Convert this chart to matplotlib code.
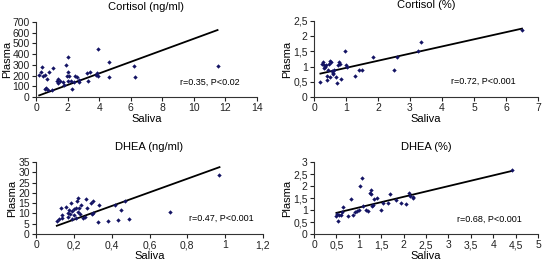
import matplotlib.pyplot as plt

plt.rcParams['font.family'] = ['Liberation Sans', 'DejaVu Sans']

# Cortisol (ng/ml)
cort_ng_saliva = [0.2, 0.3, 0.4, 0.45, 0.55, 0.6, 0.65, 0.75, 0.7, 0.85, 1.0, 1.05, 1.3, 1.4,
                  1.4, 1.5, 1.7, 1.8, 1.9, 1.95, 2.0, 2.0, 2.05, 2.1, 2.2, 2.3, 2.4, 2.5, 2.6,
                  2.7, 2.75, 3.2, 3.3, 3.4, 3.8, 3.85, 3.9, 3.95, 4.6, 4.65, 6.2, 6.3, 11.5]
cort_ng_plasma = [210, 235, 280, 200, 205, 75, 80, 65, 170, 230, 70, 270, 150, 170,
                  130, 150, 140, 115, 300, 200, 370, 230, 150, 200, 150, 75, 140, 200, 190,
                  160, 140, 220, 150, 230, 210, 220, 450, 195, 330, 190, 285, 190, 290]
cort_ng_fit_x = [0.2, 11.5]
cort_ng_fit_y = [15, 625]

# Cortisol (%)
cort_pct_saliva = [0.18, 0.25, 0.28, 0.3, 0.32, 0.35, 0.38, 0.4, 0.42, 0.45, 0.48, 0.5, 0.5,
                   0.52, 0.55, 0.58, 0.6, 0.62, 0.7, 0.72, 0.75, 0.78, 0.8, 0.85, 0.98, 1.0,
                   1.02, 1.27, 1.4, 1.5, 1.85, 2.5, 2.6, 3.25, 3.35, 6.5]
cort_pct_plasma = [0.5, 1.1, 1.15, 0.95, 1.05, 1.0, 1.05, 0.55, 0.7, 0.9, 1.1, 1.2, 0.65,
                   1.15, 0.85, 0.8, 0.75, 0.9, 0.65, 0.45, 1.05, 1.15, 1.1, 0.6, 1.5, 1.05,
                   1.0, 0.7, 0.9, 0.9, 1.3, 0.9, 1.3, 1.5, 1.8, 2.2]
cort_pct_fit_x = [0.2, 6.5]
cort_pct_fit_y = [0.77, 2.25]

# DHEA (ng/ml)
dhea_ng_saliva = [0.11, 0.12, 0.13, 0.135, 0.14, 0.16, 0.17, 0.17, 0.175, 0.18, 0.185, 0.19,
                  0.19, 0.2, 0.2, 0.21, 0.21, 0.215, 0.22, 0.22, 0.225, 0.23, 0.24, 0.25, 0.26,
                  0.265, 0.27, 0.29, 0.295, 0.3, 0.3, 0.33, 0.335, 0.38, 0.42, 0.435, 0.45,
                  0.47, 0.49, 0.71, 0.97]
dhea_ng_plasma = [6.5, 7.5, 12.5, 8, 9, 13, 10, 8.5, 11.5, 9.5, 15, 11,
                  7.5, 12, 9, 12.5, 8, 16, 17.5, 10.5, 12.5, 9.5, 14, 8, 8.5,
                  17, 12.5, 15, 9.5, 16, 10, 6, 14, 6.5, 14, 7, 11.5,
                  16, 7.5, 10.5, 28.5]
dhea_ng_fit_x = [0.11, 0.97]
dhea_ng_fit_y = [4, 32.5]

# DHEA (%)
dhea_pct_saliva = [0.5, 0.52, 0.53, 0.55, 0.6, 0.62, 0.65, 0.75, 0.82, 0.88, 0.92, 0.97, 1.0,
                   1.03, 1.08, 1.1, 1.15, 1.2, 1.25, 1.27, 1.28, 1.3, 1.32, 1.35, 1.4, 1.5,
                   1.55, 1.65, 1.7, 1.82, 1.95, 2.05, 2.12, 2.15, 2.2, 2.22, 4.42]
dhea_pct_plasma = [0.75, 0.85, 0.55, 0.78, 0.8, 0.9, 1.12, 0.75, 1.45, 0.78, 0.9, 0.95, 1.0,
                   2.02, 2.35, 1.15, 1.0, 0.95, 1.7, 1.65, 1.85, 1.15, 1.2, 1.45, 1.5, 1.0,
                   1.3, 1.3, 1.65, 1.4, 1.3, 1.25, 1.7, 1.6, 1.5, 1.55, 2.65]
dhea_pct_fit_x = [0.5, 4.4]
dhea_pct_fit_y = [0.88, 2.62]

W, H = 542, 261
fig = plt.figure(figsize=(W / 100, H / 100), dpi=100)


def panel(px, title, xs, ys, fx, fy, xlim, xstep, ylim, ystep, note, nx, ny):
    l, r, t, b = px
    ax = fig.add_axes([l / W, 1 - b / H, (r - l) / W, (b - t) / H])
    ax.scatter(xs, ys, s=5, marker='D', color='#141464', linewidths=0, zorder=3)
    ax.plot(fx, fy, color='black', lw=1.3)
    ax.set_xlim(*xlim)
    ax.set_ylim(*ylim)
    n = int(round((xlim[1] - xlim[0]) / xstep))
    xt = [xlim[0] + i * xstep for i in range(n + 1)]
    m = int(round((ylim[1] - ylim[0]) / ystep))
    yt = [ylim[0] + i * ystep for i in range(m + 1)]
    fmt = lambda v: ('%g' % round(v, 2)).replace('.', ',')
    ax.set_xticks(xt, [fmt(v) for v in xt])
    ax.set_yticks(yt, [fmt(v) for v in yt])
    for s in ['top', 'right']:
        ax.spines[s].set_visible(False)
    for s in ['left', 'bottom']:
        ax.spines[s].set_color('#333333')
        ax.spines[s].set_linewidth(0.8)
    ax.tick_params(labelsize=7.5, length=3, width=0.8, pad=1.5, colors='#222222')
    ax.set_title(title, fontsize=8, pad=9)
    ax.set_xlabel('Saliva', fontsize=8, labelpad=0.5)
    ax.set_ylabel('Plasma', fontsize=8, labelpad=0.5)
    ax.text(nx, ny, note, transform=ax.transAxes, fontsize=6.5, va='center')
    return ax


panel((36, 257, 22, 97), 'Cortisol (ng/ml)', cort_ng_saliva, cort_ng_plasma,
      cort_ng_fit_x, cort_ng_fit_y, (0, 14), 2, (0, 700), 100,
      'r=0.35, P<0.02', 0.65, 0.2)
panel((314, 538, 21, 97), 'Cortisol (%)', cort_pct_saliva, cort_pct_plasma,
      cort_pct_fit_x, cort_pct_fit_y, (0, 7), 1, (0, 2.5), 0.5,
      'r=0.72, P<0.001', 0.61, 0.2)
panel((36, 263, 162, 234), 'DHEA (ng/ml)', dhea_ng_saliva, dhea_ng_plasma,
      dhea_ng_fit_x, dhea_ng_fit_y, (0, 1.2), 0.2, (0, 35), 5,
      'r=0.47, P<0.001', 0.675, 0.22)
panel((314, 538, 162, 234), 'DHEA (%)', dhea_pct_saliva, dhea_pct_plasma,
      dhea_pct_fit_x, dhea_pct_fit_y, (0, 5), 0.5, (0, 3), 0.5,
      'r=0.68, P<0.001', 0.64, 0.21)

fig.savefig('out.png', dpi=100)
